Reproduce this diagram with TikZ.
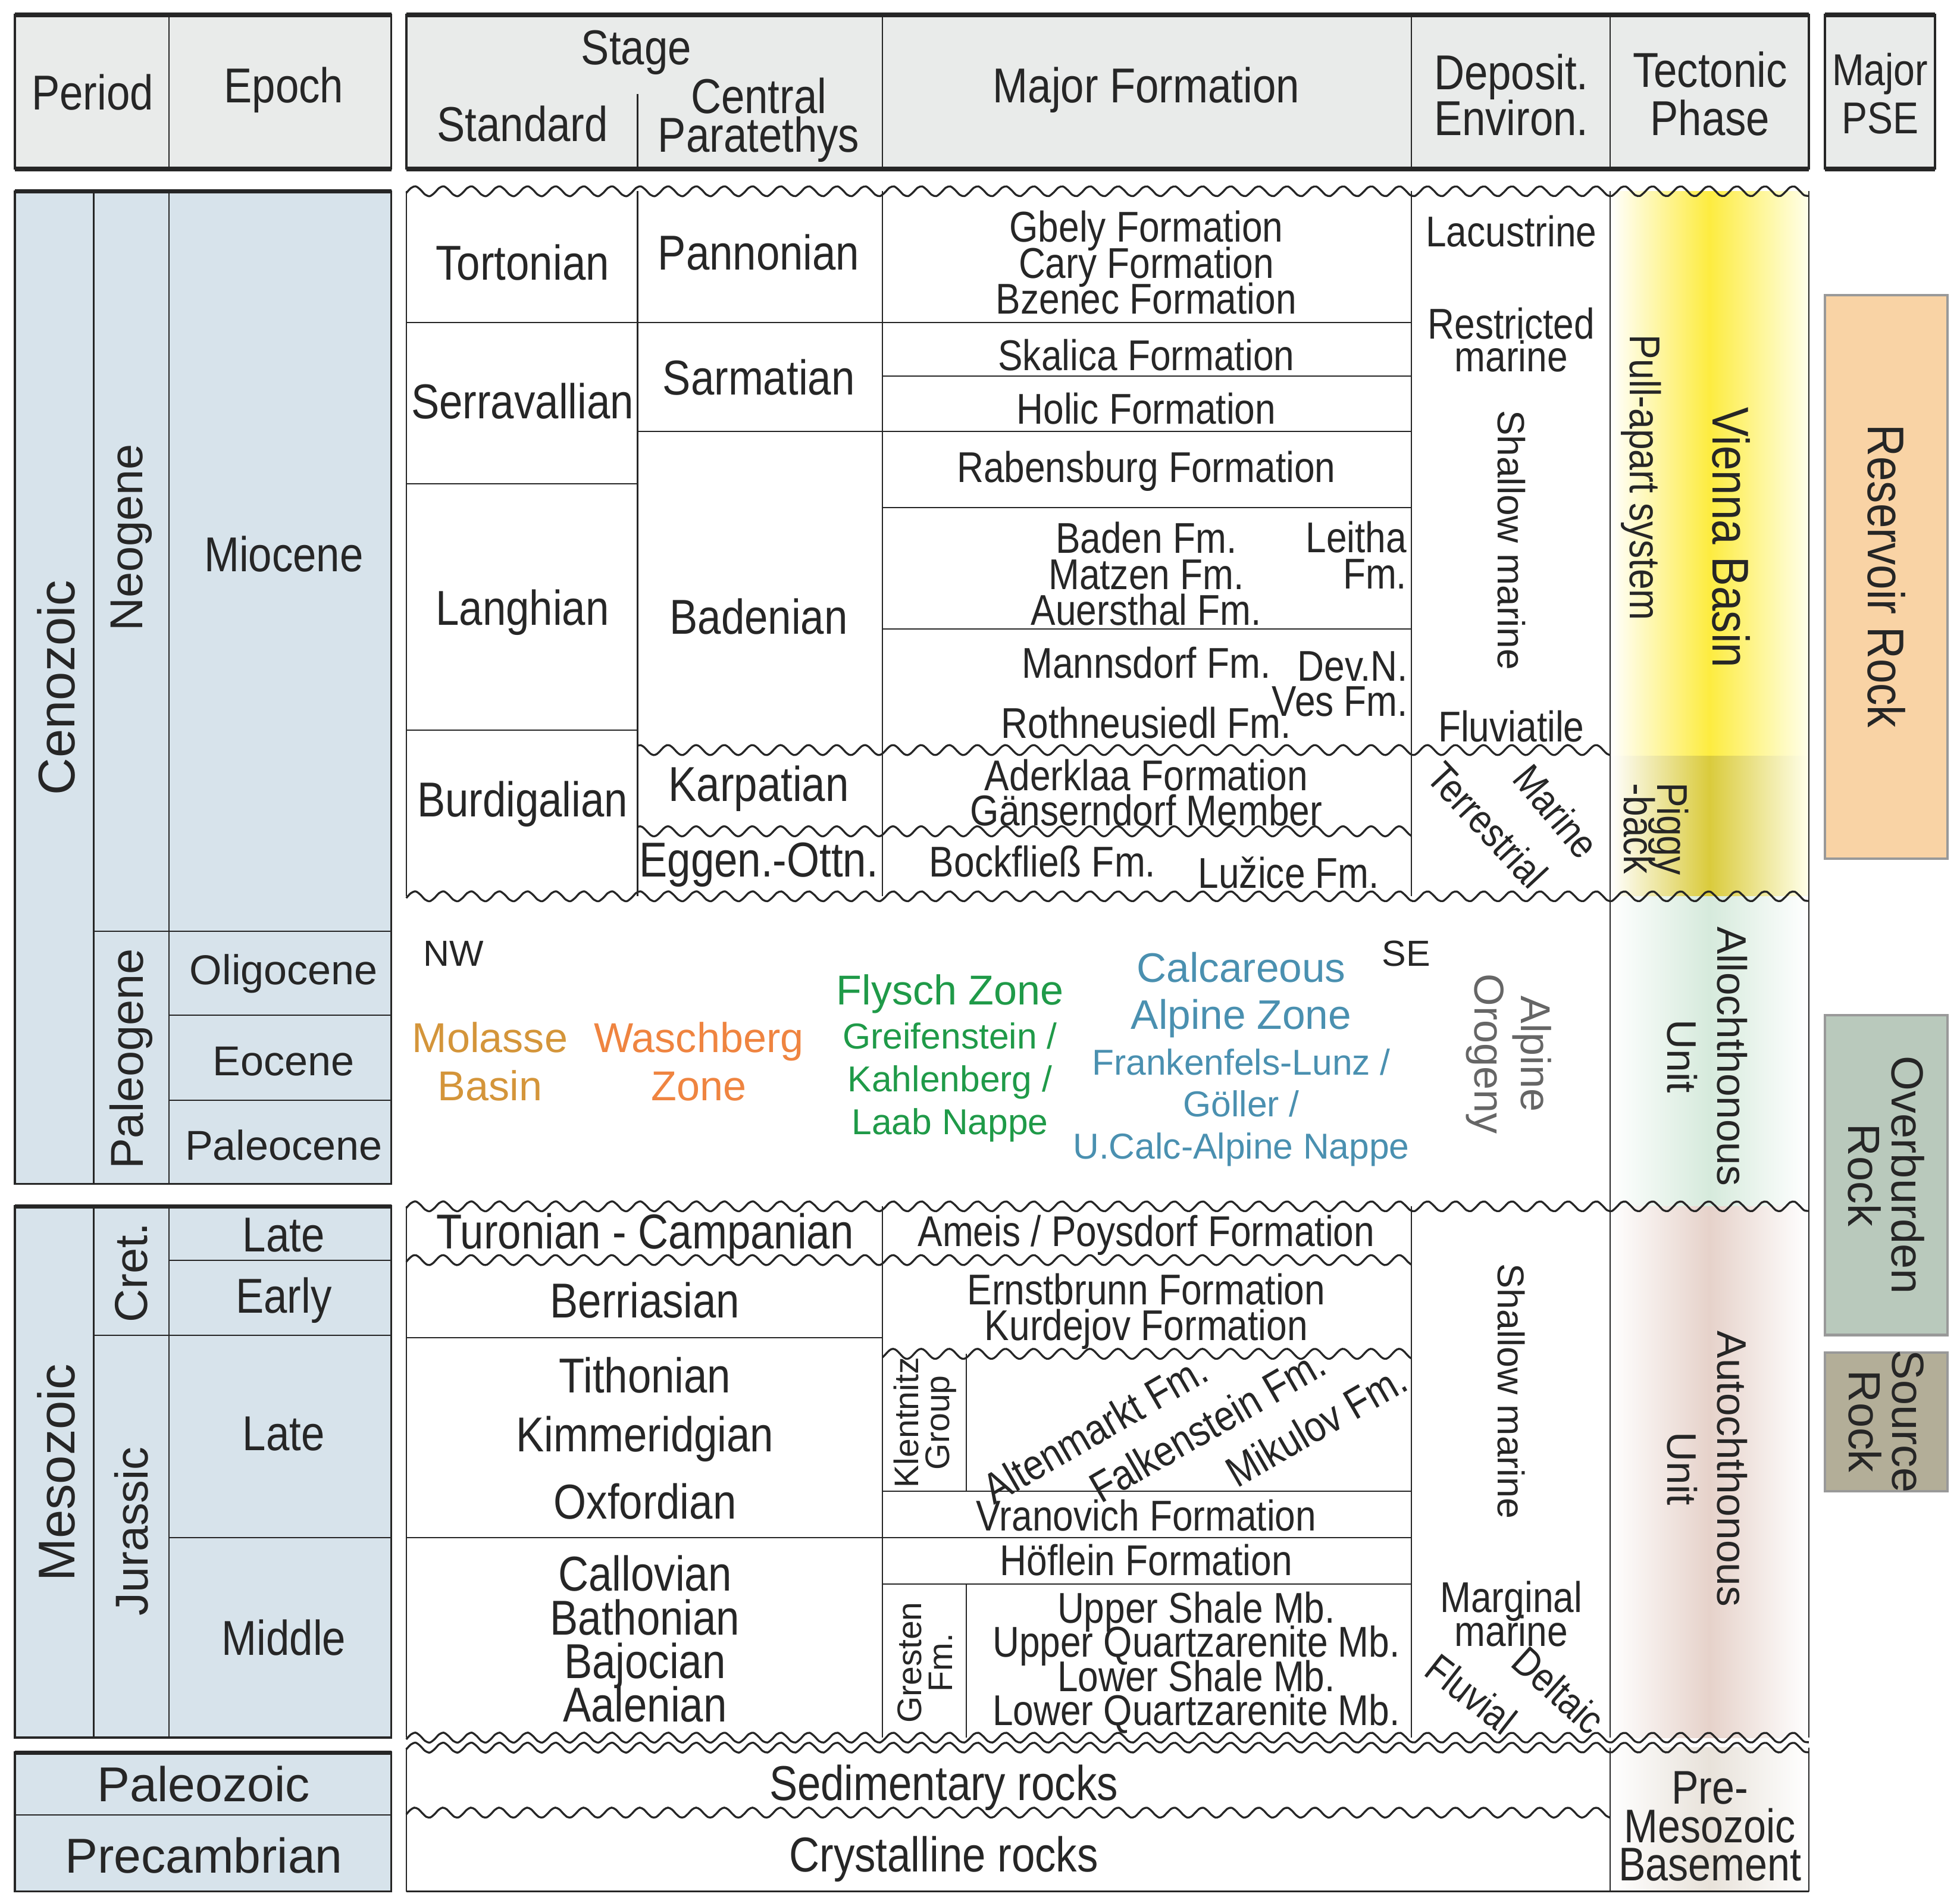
\documentclass[tikz,border=0pt]{standalone}
\usepackage{fontspec}
\setmainfont{Liberation Sans}[FakeStretch=0.86]
\newfontfamily\wide{Liberation Sans}
\newcommand\fs[2]{\fontsize{#1}{#2}\selectfont\lineskiplimit=-100pt\lineskip=0pt}
\newcommand\wfs[2]{\wide\fontsize{#1}{#2}\selectfont\lineskiplimit=-100pt\lineskip=0pt}
\begin{document}
\lineskiplimit=-100pt
\begin{tikzpicture}[x=0.02cm,y=-0.02cm,
  t/.style={align=center,inner sep=0,font=\fs{22.3}{19.8},text=black!85},
  f/.style={align=center,inner sep=0,font=\fs{19.6}{16.4},text=black!85},
  w/.style={align=center,inner sep=0,font=\wfs{19}{22},text=black!85},
  ln/.style={line width=0.6pt,black!85},
  bx/.style={line width=1pt,black!85},
  wv/.style={line width=0.9pt,black!85},
  pse/.style={draw=black!40,line width=1.2pt}]
\useasboundingbox (0,0) rectangle (1568,1522);
\newcommand\wvy[3]{\draw[wv] plot[smooth,domain=#1:#2,samples=300] (\x,{#3+4*sin(mod(\x,22.5)*16)});}
\definecolor{hdr}{HTML}{E9EBEA}
\definecolor{per}{HTML}{D7E3EB}
% ---------- header ----------
\fill[hdr] (12,12) rectangle (313,135);
\fill[hdr] (325,12) rectangle (1447,135);
\fill[hdr] (1460,12) rectangle (1548,135);
\draw[bx] (12,12) rectangle (313,135);
\draw[bx] (325,12) rectangle (1447,135);
\draw[bx] (1460,12) rectangle (1548,135);
\draw[line width=2.2pt,black!85] (12,12)--(313,12) (12,135)--(313,135) (325,12)--(1447,12) (325,135)--(1447,135) (1460,12)--(1548,12) (1460,135)--(1548,135);
\draw[ln] (135,12)--(135,135) (706,12)--(706,135) (1129,12)--(1129,135) (1288,12)--(1288,135) (510,75)--(510,135);
\node[t] (hper) at (74,74) {Period};
\node[t] (hep) at (227,72) {Epoch};
\node[t] (hst) at (509,42) {Stage};
\node[t] (hstd) at (418,99) {Standard};
\node[t,font=\fs{22.3}{17.6}] (hcp) at (607,96) {Central\\Paratethys};
\node[t] (hmf) at (917,72) {Major Formation};
\node[t,font=\fs{22.3}{21}] (hde) at (1209,76) {Deposit.\\Environ.};
\node[t,font=\fs{22.3}{22}] (htp) at (1368,75) {Tectonic\\Phase};
\node[t,font=\fs{20.3}{22}] (hpse) at (1504,75) {Major\\PSE};
% ---------- left time columns ----------
\fill[per] (12,153) rectangle (313,947);
\fill[per] (12,965) rectangle (313,1390);
\fill[per] (12,1402) rectangle (313,1513);
\draw[bx] (12,153) rectangle (313,947);
\draw[bx] (12,965) rectangle (313,1390);
\draw[bx] (12,1402) rectangle (313,1513);
\draw[line width=2pt,black!85] (12,153)--(313,153) (12,965)--(313,965) (12,1402)--(313,1402);
\draw[ln] (75,153)--(75,947) (135,153)--(135,947) (75,745)--(313,745) (135,812)--(313,812) (135,880)--(313,880);
\draw[ln] (75,965)--(75,1390) (135,965)--(135,1390) (135,1008)--(313,1008) (75,1068)--(313,1068) (135,1230)--(313,1230);
\draw[ln] (12,1452)--(313,1452);
\node[w,rotate=90,font=\wfs{23.5}{21}] (ceno) at (45,550) {Cenozoic};
\node[w,rotate=90,font=\wfs{21}{21}] (neo) at (105,430) {Neogene};
\node[w,rotate=90,font=\wfs{21}{21}] (paleog) at (105,847) {Paleogene};
\node[t] (mio) at (227,443) {Miocene};
\node[w] (oli) at (227,779) {Oligocene};
\node[w] (eoc) at (227,849) {Eocene};
\node[w] (pal) at (227,916) {Paleocene};
\node[w,rotate=90,font=\wfs{23.5}{21}] (meso) at (45,1178) {Mesozoic};
\node[w,rotate=90,font=\wfs{21}{21}] (cret) at (105,1018) {Cret.};
\node[w,rotate=90,font=\wfs{21}{21}] (jur) at (105,1225) {Jurassic};
\node[t] (clate) at (227,988) {Late};
\node[t] (cearly) at (227,1040) {Early};
\node[t] (jlate) at (227,1147) {Late};
\node[t] (jmid) at (227,1310) {Middle};
\node[w,font=\wfs{22.3}{22}] (pz) at (163,1427) {Paleozoic};
\node[w,font=\wfs{22.3}{22}] (pc) at (163,1484) {Precambrian};
% ---------- tectonic fills ----------
\shade[left color=white,right color=yellow!8,middle color={rgb,255:red,253;green,236;blue,64}] (1288,153) rectangle (1447,605);
\shade[left color=white,right color=yellow!8,middle color={rgb,255:red,218;green,203;blue,60}] (1288,605) rectangle (1447,717);
\shade[left color=white,right color=white,middle color={rgb,255:red,214;green,234;blue,220}] (1288,717) rectangle (1447,965);
\shade[left color=white,right color=white,middle color={rgb,255:red,230;green,210;blue,202}] (1288,965) rectangle (1447,1390);
\shade[left color=white,right color=white,middle color={rgb,255:red,232;green,226;blue,218}] (1288,1398) rectangle (1447,1513);
% ---------- PSE ----------
\draw[pse,fill={rgb,255:red,249;green,211;blue,165}] (1460,236) rectangle (1558,687);
\draw[pse,fill={rgb,255:red,185;green,201;blue,188}] (1460,812) rectangle (1558,1068);
\draw[pse,fill={rgb,255:red,179;green,174;blue,152}] (1460,1082) rectangle (1558,1193);
\node[t,rotate=-90,font=\fs{23.5}{21}] (res) at (1509,461) {Reservoir Rock};
\node[w,rotate=-90,font=\wfs{20.5}{20}] (ovb) at (1509,940) {Overburden\\Rock};
\node[w,rotate=-90,font=\wfs{20.5}{20}] (src) at (1509,1137) {Source\\Rock};
% ---------- Cenozoic table lines ----------
\wvy{325}{1447}{153}
\wvy{325}{1447}{717}
\draw[ln] (325,153)--(325,717) (510,153)--(510,717) (706,153)--(706,717) (1129,153)--(1129,717);
\draw[ln] (1288,153)--(1288,1390) (1447,153)--(1447,1390);
\draw[ln] (325,258)--(1129,258) (706,301)--(1129,301) (510,345)--(1129,345) (325,387)--(510,387)
  (706,406)--(1129,406) (706,503)--(1129,503) (325,584)--(510,584);
\wvy{510}{1288}{600}
\wvy{510}{1129}{665}
\node[t] (tort) at (418,210) {Tortonian};
\node[t] (serr) at (418,321) {Serravallian};
\node[t] (lang) at (418,490) {Langhian};
\node[t] (burd) at (418,643) {Burdigalian};
\node[t] (pann) at (607,202) {Pannonian};
\node[t] (sarm) at (607,302) {Sarmatian};
\node[t] (bade) at (607,493) {Badenian};
\node[t] (karp) at (607,631) {Karpatian};
\node[t] (eggo) at (607,692) {Eggen.-Ottn.};
\node[f] (gbely) at (917,210) {Gbely Formation\\Cary Formation\\Bzenec Formation};
\node[f] (skal) at (917,284) {Skalica Formation};
\node[f] (holic) at (917,327) {Holic Formation};
\node[f] (rabe) at (917,377) {Rabensburg Formation};
\node[f] (baden) at (917,459) {Baden Fm.\\Matzen Fm.\\Auersthal Fm.};
\node[f,align=right] (leitha) at (1085,444) {Leitha\\Fm.};
\node[f] (mann) at (917,530) {Mannsdorf Fm.};
\node[f,align=right,font=\fs{19.6}{15.9}] (devn) at (1072,547) {Dev.N.\\Ves Fm.};
\node[f] (roth) at (917,578) {Rothneusiedl Fm.};
\node[f,font=\fs{19.6}{16}] (ader) at (917,634) {Aderklaa Formation\\Gänserndorf Member};
\node[f] (bock) at (834,689) {Bockfließ Fm.};
\node[f] (luz) at (1031,698) {Lužice Fm.};
\node[f] (lac) at (1209,185) {Lacustrine};
\node[f,font=\fs{19.6}{14.8}] (restr) at (1209,272) {Restricted\\marine};
\node[w,rotate=-90,font=\wfs{17.3}{17}] (shm1) at (1209,432) {Shallow marine};
\node[f] (fluv) at (1209,581) {Fluviatile};
\node[f,rotate=-47,font=\fs{18.5}{16}] (terr) at (1190,660) {Terrestrial};
\node[f,rotate=-50,font=\fs{18.5}{16}] (mar) at (1245,649) {Marine};
\node[t,rotate=-90,font=\fs{23.5}{20}] (vb) at (1385,430) {Vienna Basin};
\node[f,rotate=-90] (pull) at (1313,382) {Pull-apart system};
\node[f,rotate=-90,font=\fs{19.6}{15.3}] (pig) at (1325,663) {Piggy\\-back};
% ---------- middle (Paleogene) ----------
\node[w,font=\wfs{16.5}{16}] (nw) at (363,763) {NW};
\node[w,font=\wfs{16.5}{16}] (se) at (1125,763) {SE};
\node[w,text={rgb,255:red,212;green,149;blue,58}] (mol) at (392,849) {Molasse\\Basin};
\node[w,text={rgb,255:red,239;green,132;blue,64}] (wasch) at (559,849) {Waschberg\\Zone};
\node[w,text={rgb,255:red,31;green,154;blue,72}] (fly) at (760,795) {Flysch Zone};
\node[w,font=\wfs{16.4}{19.5},text={rgb,255:red,31;green,154;blue,72}] (greif) at (760,866) {Greifenstein /\\Kahlenberg /\\Laab Nappe};
\node[w,font=\wfs{18.8}{21.5},text={rgb,255:red,74;green,144;blue,176}] (calc) at (993,796) {Calcareous\\Alpine Zone};
\node[w,font=\wfs{16.4}{19},text={rgb,255:red,74;green,144;blue,176}] (frank) at (993,886) {Frankenfels-Lunz /\\Göller /\\U.Calc-Alpine Nappe};
\node[w,rotate=-90,font=\wfs{19}{21},text=black!60] (alp) at (1207,843) {Alpine\\Orogeny};
\node[w,rotate=-90,font=\wfs{18.8}{22.7}] (allo) at (1366,845) {Allochthonous\\Unit};
% ---------- Mesozoic table ----------
\wvy{325}{1447}{965}
\draw[ln] (325,965)--(325,1390) (706,965)--(706,1390) (1129,965)--(1129,1390);
\wvy{325}{1129}{1008}
\draw[ln] (325,1070)--(706,1070);
\wvy{706}{1129}{1083}
\draw[ln] (706,1193)--(1129,1193) (325,1230)--(1129,1230) (706,1267)--(1129,1267)
  (773,1083)--(773,1193) (773,1267)--(773,1390);
\wvy{325}{1447}{1390}
\node[t] (turo) at (516,989) {Turonian - Campanian};
\node[f] (ameis) at (917,988) {Ameis / Poysdorf Formation};
\node[t] (berr) at (516,1040) {Berriasian};
\node[f] (ernst) at (917,1049) {Ernstbrunn Formation\\Kurdejov Formation};
\node[t] (tith) at (516,1100) {Tithonian};
\node[t] (kimm) at (516,1151) {Kimmeridgian};
\node[t] (oxf) at (516,1201) {Oxfordian};
\node[w,rotate=90,font=\wfs{15.5}{14}] (klent) at (740,1138) {Klentnitz\\Group};
\node[f,rotate=30] (alten) at (876,1143) {Altenmarkt Fm.};
\node[f,rotate=30] (falk) at (966,1140) {Falkenstein Fm.};
\node[f,rotate=30] (miku) at (1053,1140) {Mikulov Fm.};
\node[f] (vran) at (917,1212) {Vranovich Formation};
\node[f] (hofl) at (917,1248) {Höflein Formation};
\node[w,rotate=90,font=\wfs{15.5}{14}] (grest) at (740,1330) {Gresten\\Fm.};
\node[f,font=\fs{19.6}{15.5}] (ushale) at (957,1330) {Upper Shale Mb.\\Upper Quartzarenite Mb.\\Lower Shale Mb.\\Lower Quartzarenite Mb.};
\node[t] (call) at (516,1311) {Callovian\\Bathonian\\Bajocian\\Aalenian};
\node[w,rotate=-90,font=\wfs{17}{17}] (shm2) at (1209,1113) {Shallow marine};
\node[f,font=\fs{19.6}{15.3}] (margm) at (1209,1291) {Marginal\\marine};
\node[f,rotate=-38,font=\fs{18.5}{16}] (fluvial) at (1177,1355) {Fluvial};
\node[f,rotate=-42,font=\fs{18.5}{16}] (delt) at (1247,1352) {Deltaic};
\node[w,rotate=-90,font=\wfs{18.8}{22.7}] (auto) at (1366,1175) {Autochthonous\\Unit};
% ---------- basement ----------
\wvy{325}{1447}{1398}
\draw[ln] (325,1398)--(325,1513) (1288,1398)--(1288,1513) (1447,1398)--(1447,1513);
\draw[bx] (325,1513)--(1447,1513);
\wvy{325}{1288}{1450}
\node[t] (sed) at (755,1430) {Sedimentary rocks};
\node[t] (cry) at (755,1487) {Crystalline rocks};
\node[t,font=\fs{21.5}{17.4}] (prem) at (1368,1461) {Pre-\\Mesozoic\\Basement};
\end{tikzpicture}
\end{document}
